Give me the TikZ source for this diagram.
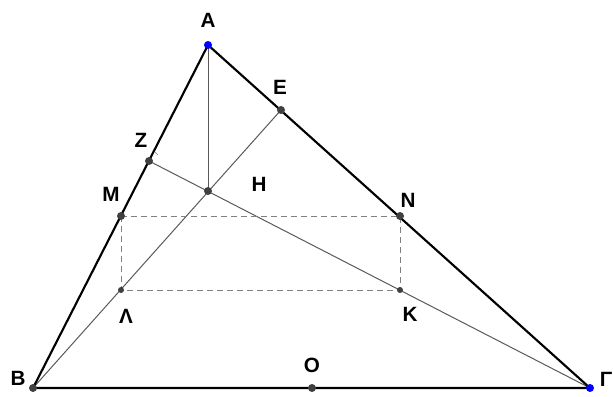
\documentclass[tikz,border=0pt]{standalone}
\usepackage{fontspec}
\setmainfont{Liberation Sans}
\begin{document}
\begin{tikzpicture}[x=0.75pt,y=-0.75pt,
  side/.style={line width=1.6pt,black},
  thinline/.style={line width=0.75pt,black!65},
  dashline/.style={line width=0.75pt,black!50,dash pattern=on 4.5pt off 3pt},
  bigdot/.style={circle,fill=black!75,inner sep=0pt,minimum size=6pt},
  smalldot/.style={circle,fill=black!75,inner sep=0pt,minimum size=4.5pt},
  bluedot/.style={circle,fill=blue,inner sep=0pt,minimum size=6pt},
  lab/.style={font=\bfseries\fontsize{15.5}{16}\selectfont,inner sep=0pt}]
\useasboundingbox (0,0) rectangle (613,396);
\coordinate (A) at (208,45);
\coordinate (B) at (33,388);
\coordinate (G) at (590,388);
\coordinate (E) at (281,110);
\coordinate (Z) at (149,161);
\coordinate (H) at (208,191);
\coordinate (M) at (121,216);
\coordinate (N) at (400,216);
\coordinate (L) at (121,290);
\coordinate (K) at (400,290);
\coordinate (O) at (312,388);
% thin lines
\draw[thinline] (A) -- (H);
\draw[thinline] (B) -- (E);
\draw[thinline] (G) -- (Z);
% dashed rectangle
\draw[dashline] (M) -- (N) -- (K) -- (L) -- cycle;
% right angle tick at Z
\draw[black!50,line width=0.4pt] (155,152) -- (158,155);
% sides
\draw[side] (A) -- (B) -- (G) -- cycle;
% points
\node[bluedot] at (A) {};
\node[bluedot] at (G) {};
\foreach \p in {B,E,Z,H,M,N,O} \node[bigdot] at (\p) {};
\foreach \p in {L,K} \node[smalldot] at (\p) {};
% labels
\node[lab] (lA) at (208,20) {A};
\node[lab] (lE) at (280,87) {E};
\node[lab] (lZ) at (141,140) {Z};
\node[lab] (lH) at (259,184) {H};
\node[lab] (lM) at (111,194) {M};
\node[lab] (lN) at (408,200) {N};
\node[lab] (lL) at (126,316) {Λ};
\node[lab] (lK) at (410,314) {K};
\node[lab] (lB) at (18,378) {B};
\node[lab] (lO) at (312,365) {O};
\node[lab,anchor=east] (lG) at (612.5,379) {Γ};
\end{tikzpicture}
\end{document}
